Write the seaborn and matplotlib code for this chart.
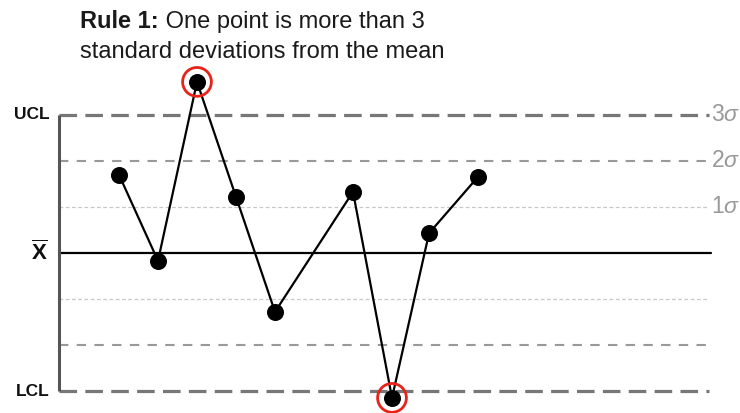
import matplotlib
matplotlib.use("Agg")
import matplotlib.pyplot as plt
import seaborn as sns
import numpy as np
import pandas as pd

# ---- data (x = sample position, y = deviation from mean in sigma units)
sample_x = [0, 1, 2, 3, 4, 6, 7, 7.95, 9.2]
sample_y = [1.70, -0.17, 3.72, 1.22, -1.28, 1.33, -3.15, 0.43, 1.65]
sigma_levels = [3, 2, 1]
sigma_labels = ["3$\\sigma$", "2$\\sigma$", "1$\\sigma$"]
limit_labels = ["UCL", "LCL"]
title_bold = "Rule 1:"
title_rest = " One point is more than 3"
title_line2 = "standard deviations from the mean"

sns.set_theme(style="white")
plt.rcParams['font.family'] = ['Liberation Sans', 'DejaVu Sans']
plt.rcParams['mathtext.fontset'] = 'custom'
plt.rcParams['mathtext.rm'] = 'Liberation Sans'
plt.rcParams['mathtext.it'] = 'Liberation Sans:italic'
plt.rcParams['mathtext.bf'] = 'Liberation Sans:bold'

df = pd.DataFrame({"x": sample_x, "y": sample_y})

fig = plt.figure(figsize=(7.4, 4.13), dpi=100)
ax = fig.add_axes([0, 0, 1, 1])
# map: pixel_x = 119 + 39*x ; pixel_y = 253 - 46*y
ax.set_xlim(-119 / 39, (740 - 119) / 39)
ax.set_ylim((253 - 413) / 46, 253 / 46)
ax.axis("off")

x_left = (58.5 - 119) / 39
x_right = (709 - 119) / 39

# control lines
styles = {
    3: dict(color="#777777", lw=2.3, dashes=(5.5, 2.6)),
    2: dict(color="#999999", lw=1.5, dashes=(4.5, 4.0)),
    1: dict(color="#c8c8c8", lw=0.9, dashes=(3, 2)),
}
for lvl in sigma_levels:
    st = styles[lvl]
    for sgn in (1, -1):
        ax.plot([x_left, x_right], [sgn * lvl, sgn * lvl], color=st["color"],
                lw=st["lw"], dashes=st["dashes"], zorder=1, solid_capstyle="butt")
ax.plot([x_left, x_right + 0.05], [0, 0], color="black", lw=1.6, zorder=1)
ax.plot([x_left, x_left], [-3, 3], color="#555555", lw=2.2, zorder=2,
        solid_capstyle="butt")

# sigma labels
for lvl, lab in zip(sigma_levels, sigma_labels):
    ax.text(x_right + 0.06, lvl, lab, color="#999999", fontsize=16.5,
            ha="left", va="center")

# limit labels
ax.text((50 - 119) / 39, 3, limit_labels[0], fontsize=12.5, fontweight="bold",
        ha="right", va="center", color="#111111")
ax.text((50 - 119) / 39, -3, limit_labels[1], fontsize=12.5, fontweight="bold",
        ha="right", va="center", color="#111111")
ax.text((48 - 119) / 39, 0, r"$\overline{\mathbf{X}}$", fontsize=16,
        ha="right", va="center", color="#111111")

# series
sns.lineplot(data=df, x="x", y="y", sort=False, color="black", lw=1.6,
             ax=ax, zorder=3, legend=False)
sns.scatterplot(data=df, x="x", y="y", color="black", s=150, linewidth=0,
                ax=ax, zorder=4, legend=False)
out = df[df["y"].abs() > 3]
ax.scatter(out["x"], out["y"], s=430, facecolors="none", edgecolors="#e8231a",
           linewidths=2.0, zorder=5)

# title
fs_title = 17
t1 = ax.text(80 / 740, 1 - 22 / 413, title_bold, transform=ax.transAxes,
             fontsize=fs_title, fontweight="bold", ha="left", va="center",
             color="#1a1a1a")
fig.canvas.draw()
bb = t1.get_window_extent()
ax.text(bb.x1 / 740, 1 - 22 / 413, title_rest, transform=ax.transAxes,
        fontsize=fs_title, ha="left", va="center", color="#1a1a1a")
ax.text(80 / 740, 1 - 52 / 413, title_line2, transform=ax.transAxes,
        fontsize=fs_title, ha="left", va="center", color="#1a1a1a")

fig.savefig("out.png", dpi=100)
